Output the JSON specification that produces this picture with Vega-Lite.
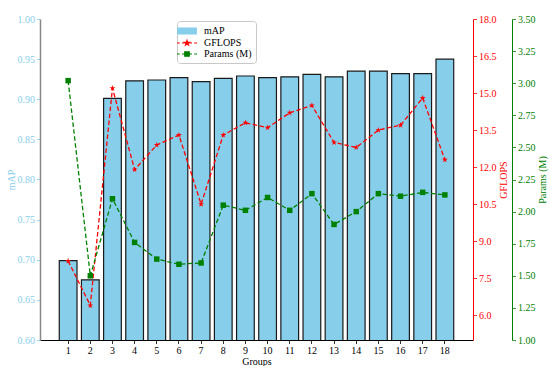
{
  "$schema": "https://vega.github.io/schema/vega-lite/v6.json",
  "width": 433,
  "height": 321,
  "autosize": {"type": "none"},
  "padding": {"left": 40, "top": 19, "right": 77, "bottom": 26},
  "config": {
    "font": "Liberation Serif",
    "view": {"stroke": null},
    "axis": {"labelFontSize": 10, "titleFontSize": 10, "titleFontWeight": "normal", "tickSize": 3.5, "tickWidth": 0.8, "labelPadding": 2, "grid": false},
    "legend": {
      "orient": "none", "legendX": 137, "legendY": 2,
      "padding": 4, "fillColor": "#ffffff", "strokeColor": "#c8c8c8", "strokeWidth": 1, "cornerRadius": 3,
      "labelFontSize": 10, "labelColor": "#000", "labelOffset": 11, "symbolSize": 100, "rowPadding": 0
    }
  },
  "data": {"values": [
    {"Group": 1, "mAP": 0.699, "GFLOPS": 8.2, "Params": 3.02},
    {"Group": 2, "mAP": 0.675, "GFLOPS": 6.4, "Params": 1.50},
    {"Group": 3, "mAP": 0.901, "GFLOPS": 15.2, "Params": 2.10},
    {"Group": 4, "mAP": 0.923, "GFLOPS": 11.9, "Params": 1.76},
    {"Group": 5, "mAP": 0.924, "GFLOPS": 12.9, "Params": 1.63},
    {"Group": 6, "mAP": 0.927, "GFLOPS": 13.3, "Params": 1.59},
    {"Group": 7, "mAP": 0.922, "GFLOPS": 10.5, "Params": 1.60},
    {"Group": 8, "mAP": 0.926, "GFLOPS": 13.3, "Params": 2.05},
    {"Group": 9, "mAP": 0.929, "GFLOPS": 13.8, "Params": 2.01},
    {"Group": 10, "mAP": 0.927, "GFLOPS": 13.6, "Params": 2.11},
    {"Group": 11, "mAP": 0.928, "GFLOPS": 14.2, "Params": 2.01},
    {"Group": 12, "mAP": 0.931, "GFLOPS": 14.5, "Params": 2.14},
    {"Group": 13, "mAP": 0.928, "GFLOPS": 13.0, "Params": 1.90},
    {"Group": 14, "mAP": 0.935, "GFLOPS": 12.8, "Params": 2.00},
    {"Group": 15, "mAP": 0.935, "GFLOPS": 13.5, "Params": 2.14},
    {"Group": 16, "mAP": 0.932, "GFLOPS": 13.7, "Params": 2.12},
    {"Group": 17, "mAP": 0.932, "GFLOPS": 14.8, "Params": 2.15},
    {"Group": 18, "mAP": 0.950, "GFLOPS": 12.3, "Params": 2.13}
  ]},
  "encoding": {
    "x": {
      "field": "Group", "type": "ordinal",
      "scale": {"paddingInner": 0.2, "paddingOuter": 0.87},
      "axis": {"title": "Groups", "labelAngle": 0, "domainColor": "#000", "tickColor": "#000", "labelColor": "#000", "titleColor": "#000", "titlePadding": 1}
    }
  },
  "layer": [
    {
      "mark": {"type": "bar", "fill": "#87CEEB", "stroke": "#1a1a1a", "strokeWidth": 1.2, "clip": true},
      "encoding": {
        "y": {
          "field": "mAP", "type": "quantitative",
          "scale": {"domain": [0.6, 1.0], "nice": false, "zero": false},
          "axis": {"title": "mAP", "orient": "left", "values": [0.6, 0.65, 0.7, 0.75, 0.8, 0.85, 0.9, 0.95, 1.0], "format": ".2f", "labelColor": "#87CEEB", "titleColor": "#87CEEB", "tickColor": "#87CEEB", "domainColor": "#888888", "domainWidth": 1.5, "titlePadding": 1}
        },
        "color": {
          "datum": "mAP", "type": "nominal",
          "scale": {"domain": ["mAP", "GFLOPS", "Params (M)"], "range": ["#87CEEB", "#ff0000", "#008000"]},
          "legend": {
            "title": null,
            "encode": {
              "symbols": {
                "update": {
                  "shape": {"signal": "datum.value === 'mAP' ? 'M-1.85,-0.6H1.85V0.6H-1.85Z' : datum.value === 'GFLOPS' ? 'M-2,0H-1.45M-1.0,0H-0.45M0.45,0H1.0M1.45,0H2M0,-0.5L0.113,-0.155L0.476,-0.155L0.182,0.059L0.294,0.405L0,0.191L-0.294,0.405L-0.182,0.059L-0.476,-0.155L-0.113,-0.155Z' : 'M-2,0H-1.45M-1.0,0H-0.45M0.45,0H1.0M1.45,0H2M-0.45,-0.45H0.45V0.45H-0.45Z'"},
                  "fill": {"signal": "datum.value === 'mAP' ? '#87CEEB' : datum.value === 'GFLOPS' ? '#ff0000' : '#008000'"},
                  "stroke": {"signal": "datum.value === 'mAP' ? '#1a1a1a' : datum.value === 'GFLOPS' ? '#ff0000' : '#008000'"},
                  "strokeWidth": {"value": 1.2},
                  "strokeDash": {"value": []},
                  "opacity": {"value": 1},
                  "fillOpacity": {"value": 1},
                  "strokeOpacity": {"value": 1}
                }
              }
            }
          }
        }
      }
    },
    {
      "mark": {"type": "line", "strokeDash": [4.5, 2.5], "strokeWidth": 1.3, "point": {"shape": "M0,-1L0.225,-0.309L0.951,-0.309L0.363,0.118L0.588,0.809L0,0.382L-0.588,0.809L-0.363,0.118L-0.951,-0.309L-0.225,-0.309Z", "size": 40, "filled": true}},
      "encoding": {
        "y": {
          "field": "GFLOPS", "type": "quantitative",
          "scale": {"domain": [5, 18], "nice": false, "zero": false},
          "axis": {"title": "GFLOPS", "orient": "right", "titleAngle": 270, "titleBaseline": "top", "values": [6, 7.5, 9, 10.5, 12, 13.5, 15, 16.5, 18], "format": ".1f", "labelColor": "#ff0000", "titleColor": "#ff0000", "tickColor": "#ff0000", "domainColor": "#ff0000", "titlePadding": 2}
        },
        "color": {
          "datum": "GFLOPS", "type": "nominal",
          "legend": {
            "title": null,
            "encode": {
              "symbols": {
                "update": {
                  "shape": {"signal": "datum.value === 'mAP' ? 'M-1.85,-0.6H1.85V0.6H-1.85Z' : datum.value === 'GFLOPS' ? 'M-2,0H-1.45M-1.0,0H-0.45M0.45,0H1.0M1.45,0H2M0,-0.5L0.113,-0.155L0.476,-0.155L0.182,0.059L0.294,0.405L0,0.191L-0.294,0.405L-0.182,0.059L-0.476,-0.155L-0.113,-0.155Z' : 'M-2,0H-1.45M-1.0,0H-0.45M0.45,0H1.0M1.45,0H2M-0.45,-0.45H0.45V0.45H-0.45Z'"},
                  "fill": {"signal": "datum.value === 'mAP' ? '#87CEEB' : datum.value === 'GFLOPS' ? '#ff0000' : '#008000'"},
                  "stroke": {"signal": "datum.value === 'mAP' ? '#1a1a1a' : datum.value === 'GFLOPS' ? '#ff0000' : '#008000'"},
                  "strokeWidth": {"value": 1.2},
                  "strokeDash": {"value": []},
                  "opacity": {"value": 1},
                  "fillOpacity": {"value": 1},
                  "strokeOpacity": {"value": 1}
                }
              }
            }
          }
        }
      }
    },
    {
      "mark": {"type": "line", "strokeDash": [4.5, 2.5], "strokeWidth": 1.3, "point": {"shape": "square", "size": 30, "filled": true}},
      "encoding": {
        "y": {
          "field": "Params", "type": "quantitative",
          "scale": {"domain": [1, 3.5], "nice": false, "zero": false},
          "axis": {"title": "Params (M)", "orient": "right", "offset": 39, "titleAngle": 270, "titleBaseline": "top", "values": [1, 1.25, 1.5, 1.75, 2, 2.25, 2.5, 2.75, 3, 3.25, 3.5], "format": ".2f", "labelColor": "#008000", "titleColor": "#008000", "tickColor": "#008000", "domainColor": "#008000", "titlePadding": 2}
        },
        "color": {
          "datum": "Params (M)", "type": "nominal",
          "legend": {
            "title": null,
            "encode": {
              "symbols": {
                "update": {
                  "shape": {"signal": "datum.value === 'mAP' ? 'M-1.85,-0.6H1.85V0.6H-1.85Z' : datum.value === 'GFLOPS' ? 'M-2,0H-1.45M-1.0,0H-0.45M0.45,0H1.0M1.45,0H2M0,-0.5L0.113,-0.155L0.476,-0.155L0.182,0.059L0.294,0.405L0,0.191L-0.294,0.405L-0.182,0.059L-0.476,-0.155L-0.113,-0.155Z' : 'M-2,0H-1.45M-1.0,0H-0.45M0.45,0H1.0M1.45,0H2M-0.45,-0.45H0.45V0.45H-0.45Z'"},
                  "fill": {"signal": "datum.value === 'mAP' ? '#87CEEB' : datum.value === 'GFLOPS' ? '#ff0000' : '#008000'"},
                  "stroke": {"signal": "datum.value === 'mAP' ? '#1a1a1a' : datum.value === 'GFLOPS' ? '#ff0000' : '#008000'"},
                  "strokeWidth": {"value": 1.2},
                  "strokeDash": {"value": []},
                  "opacity": {"value": 1},
                  "fillOpacity": {"value": 1},
                  "strokeOpacity": {"value": 1}
                }
              }
            }
          }
        }
      }
    }
  ],
  "resolve": {"scale": {"y": "independent"}, "axis": {"y": "independent"}}
}
